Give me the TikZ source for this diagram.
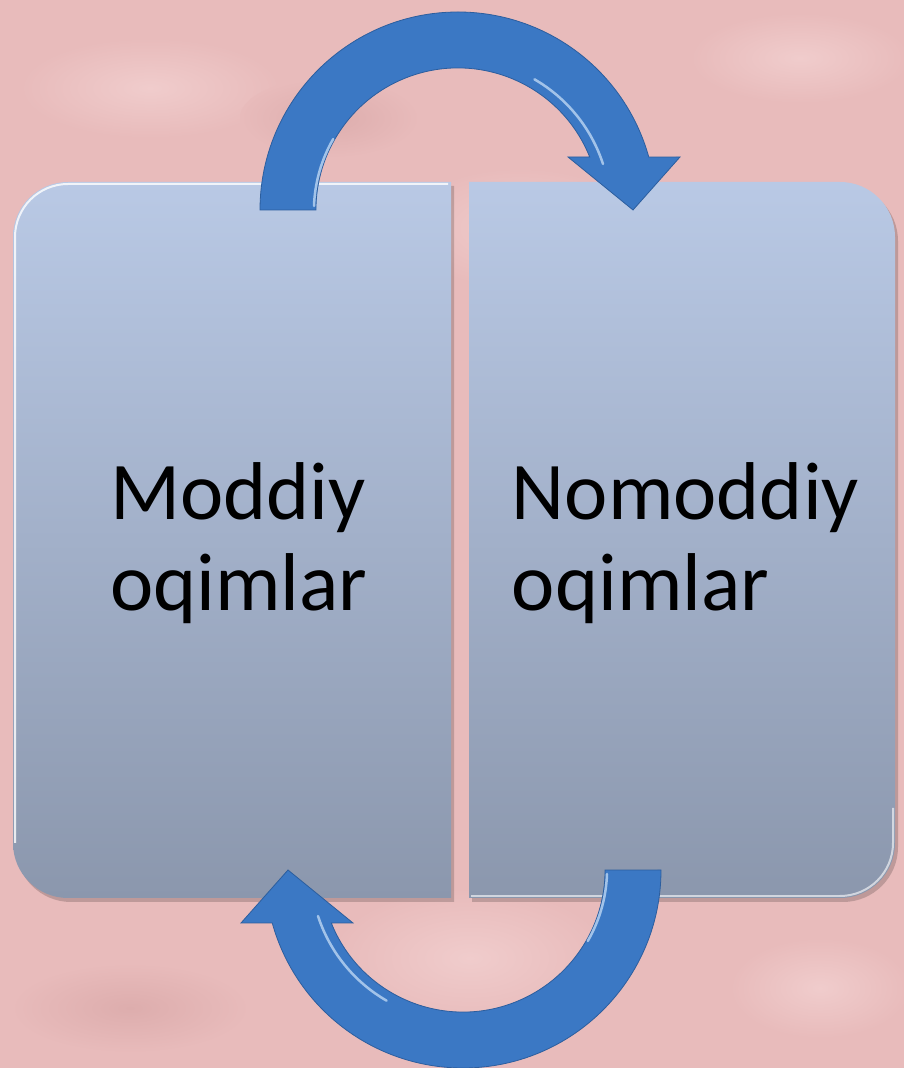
\documentclass[tikz,border=0pt]{standalone}
\usepackage{fontspec}
\setmainfont{Carlito}
\definecolor{bg}{HTML}{E8BBBB}
\definecolor{bglight}{HTML}{F0CCCC}
\definecolor{bgdark}{HTML}{DDADAD}
\definecolor{boxtop}{HTML}{B9C9E5}
\definecolor{boxbot}{HTML}{8B97AD}
\definecolor{arrowblue}{HTML}{3B78C4}
\definecolor{arrowedge}{HTML}{2C5E9E}
\definecolor{arrowhi}{HTML}{CFE4FA}
\tikzset{
  boxsty/.style={top color=boxtop,bottom color=boxbot},
  shadowsty/.style={fill=black,opacity=0.18},
  arrowsty/.style={fill=arrowblue,draw=arrowedge,line width=0.8},
  hilite/.style={draw=arrowhi,opacity=0.7,line width=2.5,line cap=round},
  lbl/.style={font=\fontsize{82}{91}\selectfont,align=left,inner sep=0pt,text=black},
  blob/.style={inner color=bglight,outer color=bg}
}
\begin{document}
\begin{tikzpicture}[x=1pt,y=1pt]
\useasboundingbox (0,0) rectangle (904,1068);
\fill[bg] (0,0) rectangle (904,1068);
% mottled background
\shade[blob] (520,840) ellipse [x radius=120,y radius=60];
\shade[blob] (150,980) ellipse [x radius=130,y radius=50];
\shade[blob] (800,1010) ellipse [x radius=110,y radius=45];
\shade[blob] (470,110) ellipse [x radius=140,y radius=70];
\shade[blob] (820,80) ellipse [x radius=90,y radius=50];
\shade[inner color=bgdark,outer color=bg] (130,60) ellipse [x radius=120,y radius=45];
\shade[inner color=bgdark,outer color=bg] (330,950) ellipse [x radius=90,y radius=40];

% shadows
\fill[shadowsty] (454,166) -- (454,882) -- (71,882) arc[start angle=90,end angle=180,radius=55] -- (16,221) arc[start angle=180,end angle=270,radius=55] -- cycle;
\fill[shadowsty] (472,166) -- (472,882) -- (843,882) arc[start angle=90,end angle=0,radius=55] -- (898,221) arc[start angle=0,end angle=-90,radius=55] -- cycle;

% boxes
\path[boxsty] (451,170) -- (451,886) -- (68,886) arc[start angle=90,end angle=180,radius=55] -- (13,225) arc[start angle=180,end angle=270,radius=55] -- cycle;
\path[boxsty] (469,170) -- (469,886) -- (840,886) arc[start angle=90,end angle=0,radius=55] -- (895,225) arc[start angle=0,end angle=-90,radius=55] -- cycle;
% bevel highlights
\draw[white,opacity=0.8,line width=2] (448,884) -- (68,884) arc[start angle=90,end angle=180,radius=53] -- (15,225);
\draw[white,opacity=0.6,line width=2] (840,172) arc[start angle=-90,end angle=0,radius=53] -- (893,260);
\draw[white,opacity=0.6,line width=2] (471,172) -- (840,172);

% labels
\node[lbl] (moddiy) at (239,524.5) {Moddiy\\oqimlar};
\node[lbl] (nomoddiy) at (685.5,524.5) {Nomoddiy\\oqimlar};

% top circular arrow
\begin{scope}[shift={(458,858)}]
  \path[arrowsty] (-198,0) arc[start angle=180,end angle=15.5,radius=198]
    -- (222,53) -- (175,0) -- (110,53) -- (131.7,53)
    arc[start angle=21.9,end angle=180,radius=142] -- cycle;
  \draw[hilite] (145,46) arc[start angle=18,end angle=60,radius=152];
  \draw[hilite] (-144,4) arc[start angle=178,end angle=150,radius=144];
\end{scope}

% bottom circular arrow
\begin{scope}[shift={(463,198)},rotate=180]
  \path[arrowsty] (-198,0) arc[start angle=180,end angle=15.5,radius=198]
    -- (222,53) -- (175,0) -- (110,53) -- (131.7,53)
    arc[start angle=21.9,end angle=180,radius=142] -- cycle;
  \draw[hilite] (145,46) arc[start angle=18,end angle=60,radius=152];
  \draw[hilite] (-144,4) arc[start angle=178,end angle=150,radius=144];
\end{scope}
\end{tikzpicture}
\end{document}
